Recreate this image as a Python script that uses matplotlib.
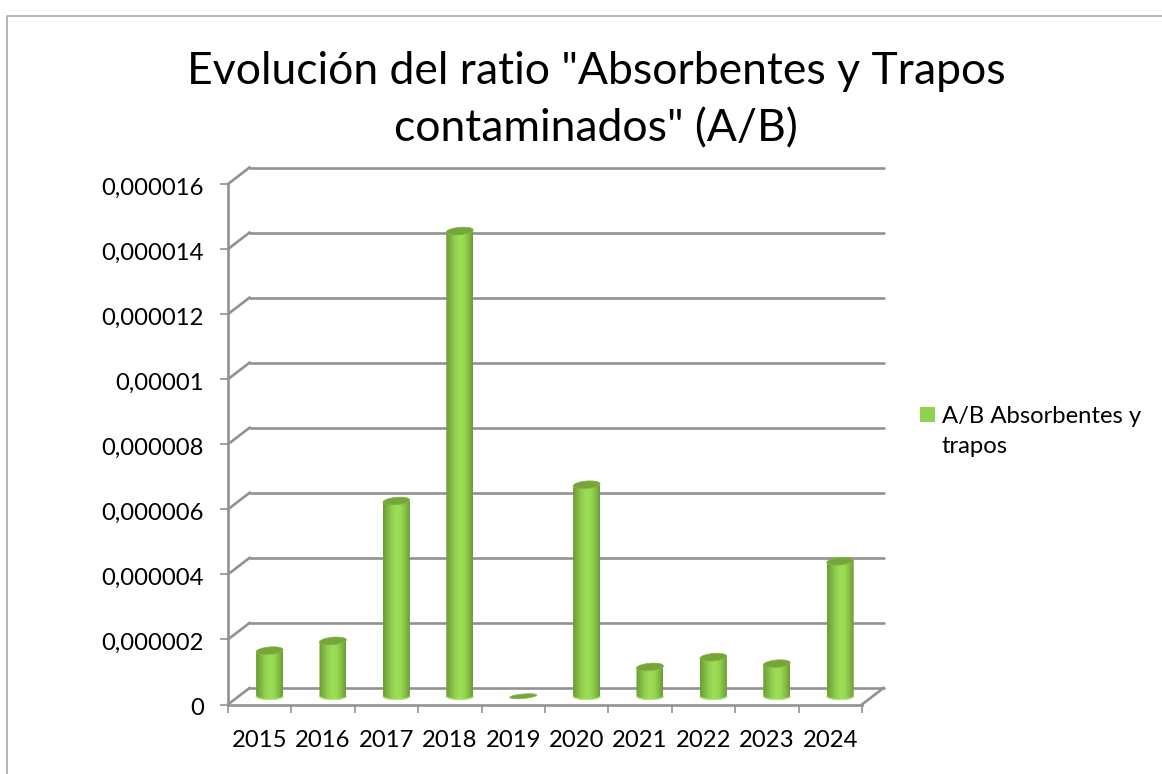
import numpy as np
import matplotlib
matplotlib.use("Agg")
import matplotlib.pyplot as plt
from matplotlib.colors import LinearSegmentedColormap
from matplotlib.lines import Line2D
from matplotlib.patches import Ellipse, PathPatch, Rectangle
from matplotlib.path import Path
from matplotlib.transforms import Affine2D, IdentityTransform

years = ["2015", "2016", "2017", "2018", "2019", "2020", "2021", "2022", "2023", "2024"]
ratio = [1.4e-6, 1.7e-6, 6.0e-6, 14.3e-6, 0.0, 6.5e-6, 0.9e-6, 1.2e-6, 1.0e-6, 4.15e-6]
y_ticks = [0, 2e-6, 4e-6, 6e-6, 8e-6, 10e-6, 12e-6, 14e-6, 16e-6]
y_labels = ["0", "0,000002", "0,000004", "0,000006", "0,000008", "0,00001", "0,000012", "0,000014", "0,000016"]
title = 'Evolución del ratio "Absorbentes y Trapos\ncontaminados" (A/B)'
legend_label = "A/B Absorbentes y\ntrapos"

W, H = 1162, 774
GRAY = "#929292"
LW = 1.9
plt.rcParams["font.family"] = ["Lato", "DejaVu Sans"]
fig = plt.figure(figsize=(W / 100, H / 100), dpi=100, facecolor="white")

def fx(p): return p / W
def fy(p): return 1 - p / H

# outer chart frame
fig.add_artist(Line2D([fx(7), fx(7), fx(1162)], [fy(774), fy(16), fy(16)], color="#b0b0b0", lw=1.3))

left, right, top, bottom = 228, 862, 184, 704.5
ax = fig.add_axes([fx(left), fy(bottom), (right - left) / W, (bottom - top) / H])
ax.set_xlim(0, len(years))
ax.set_ylim(0, 16e-6)
for s in ax.spines.values():
    s.set_visible(False)
ax.patch.set_visible(False)

# ticks
ax.set_yticks(y_ticks, y_labels)
ax.set_xticks(np.arange(len(years) + 1), [""] * (len(years) + 1))
ax.set_xticks(np.arange(len(years)) + 0.5, years, minor=True)
ax.tick_params(axis="y", length=5.5, width=1.2, color=GRAY, labelsize=17.2, pad=12, labelcolor="black")
ax.tick_params(axis="x", which="major", length=6, width=1.2, color=GRAY)
ax.tick_params(axis="x", which="minor", length=0, labelsize=17.2, pad=18.5, labelcolor="black")
for lab in ax.get_yticklabels():
    lab.set_transform(lab.get_transform() + Affine2D().translate(0, -2))

# wall and floor (depth drawn as a pixel offset of the data coordinates)
DX, DY = 21.5, 16.5
back = ax.transData + Affine2D().translate(DX, DY)
mid = ax.transData + Affine2D().translate(DX * 0.46, DY * 0.5)
n = len(years)
for v in y_ticks:
    ax.plot([0, n], [v, v], transform=back, color=GRAY, lw=LW, clip_on=False, zorder=1, solid_capstyle="round")
    p0 = ax.transData.transform((0, v))
    ax.add_line(Line2D([p0[0], p0[0] + DX], [p0[1], p0[1] + DY], transform=IdentityTransform(),
                       color=GRAY, lw=LW, clip_on=False, zorder=1))
p0 = ax.transData.transform((n, 0))
ax.add_line(Line2D([p0[0], p0[0] + DX], [p0[1], p0[1] + DY], transform=IdentityTransform(),
                   color=GRAY, lw=LW, clip_on=False, zorder=1))
ax.plot([0, n], [0, 0], color=GRAY, lw=LW, clip_on=False, zorder=2)
ax.plot([0, 0], [0, 16e-6], color=GRAY, lw=LW, clip_on=False, zorder=2)

# cylinders
cmap = LinearSegmentedColormap.from_list(
    "cyl", ["#6c9c36", "#7fb541", "#93d04f", "#9cdf56", "#98d952", "#86bf45", "#6c9b37"])
grad = np.linspace(0, 1, 64).reshape(1, -1)
HW, EH = 13.5, 7.5
for i, v in enumerate(ratio):
    xc, yb = mid.transform((i + 0.5, 0))
    _, yt = mid.transform((i + 0.5, v))
    if v > 0:
        arc = Path.arc(180, 360)
        verts = arc.vertices * [HW, EH / 2] + [xc, yb]
        codes = list(arc.codes)
        verts = np.vstack([[xc - HW, yt], verts, [xc + HW, yt], [xc - HW, yt]])
        codes = [Path.MOVETO] + [Path.LINETO] + codes[1:] + [Path.LINETO, Path.CLOSEPOLY]
        body = PathPatch(Path(verts, codes), transform=IdentityTransform(), fc="none", ec="none")
        ax.add_patch(body)
        im = ax.imshow(grad, cmap=cmap, aspect="auto", origin="lower", zorder=3,
                       extent=(xc - HW, xc + HW, yb - EH, yt), transform=IdentityTransform())
        im.set_clip_path(body)
        rim = Path(arc.vertices * [HW, EH / 2] + [xc, yb + 0.6])
        ax.add_patch(PathPatch(rim, transform=IdentityTransform(), fc="none", ec="#b4e77c", lw=1.0,
                               alpha=0.8, zorder=4, clip_on=False))
    ax.add_patch(Ellipse((xc, yt), 2 * HW, EH if v > 0 else 4.5, angle=5, transform=IdentityTransform(),
                         fc="#76a63a", ec="#86b844", lw=0.5, zorder=5, clip_on=False))
ax.set_xlim(0, n)
ax.set_ylim(0, 16e-6)

fig.text(fx(596), fy(100), title, ha="center", va="center", fontsize=32, color="black", linespacing=1.5)

fig.add_artist(Rectangle((fx(920), fy(422)), 15 / W, 15 / H, transform=fig.transFigure, fc="#92d050", ec="none"))
fig.text(fx(942), fy(431.5), legend_label, ha="left", va="center", fontsize=17.2, color="black", linespacing=1.52)

fig.savefig("out.png", dpi=100, facecolor="white")
